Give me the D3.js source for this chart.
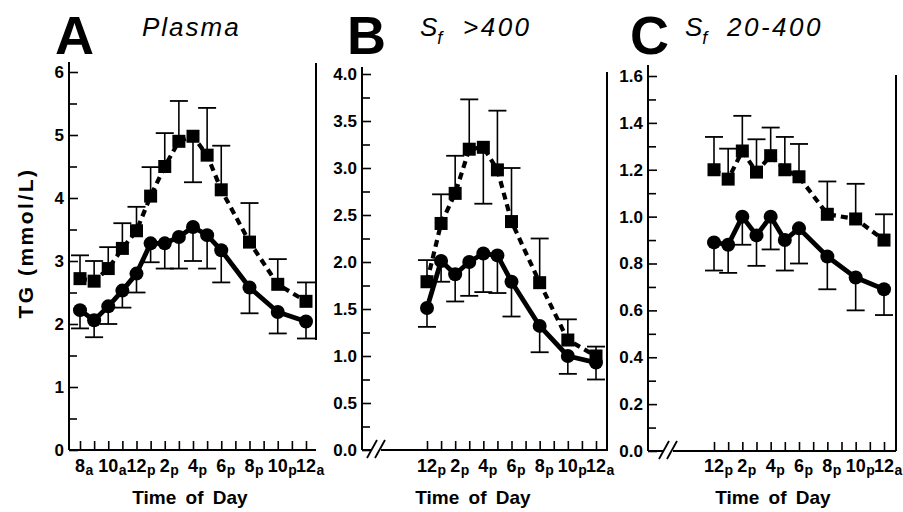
<!DOCTYPE html>
<html>
<head>
<meta charset="utf-8">
<script src="https://cdn.jsdelivr.net/npm/d3@7"></script>
<style>
    body { margin: 0; background: #fff; }
    text { font-family: "Liberation Sans", Arial, Helvetica, sans-serif; fill: #000; }
</style>
</head>
<body>
<div id="chart"></div>
<script>
// hour of day: 8 = 8 am, 12 = noon, 24 = midnight
var hoursA = [8, 9, 10, 11, 12, 13, 14, 15, 16, 17, 18, 20, 22, 24];
var hoursBC = [12, 13, 14, 15, 16, 17, 18, 20, 22, 24];

// A: plasma (squares = dashed, circles = solid); "Bar" = end of the error bar
var plasmaSquare = [2.72, 2.68, 2.88, 3.2, 3.48, 4.03, 4.5, 4.9, 4.98, 4.68, 4.13, 3.3, 2.63, 2.36];
var plasmaSquareBar = [3.09, 3.0, 3.22, 3.6, 3.86, 4.49, 5.03, 5.54, 4.25, 5.43, 4.83, 3.92, 3.03, 2.66];
var plasmaCircle = [2.22, 2.06, 2.28, 2.53, 2.8, 3.28, 3.28, 3.38, 3.54, 3.41, 3.17, 2.58, 2.19, 2.04];
var plasmaCircleBar = [1.93, 1.79, 2.0, 2.26, 2.5, 2.98, 2.88, 2.88, 3.0, 2.88, 2.66, 2.17, 1.85, 1.77];

// B: Sf >400
var sf400Square = [1.79, 2.41, 2.73, 3.2, 3.22, 2.98, 2.43, 1.78, 1.17, 1.0];
var sf400SquareBar = [2.02, 2.72, 3.13, 3.73, 2.62, 3.61, 3.0, 2.25, 1.39, 1.1];
var sf400Circle = [1.51, 2.01, 1.87, 2.0, 2.09, 2.07, 1.79, 1.32, 1.0, 0.93];
var sf400CircleBar = [1.31, 1.79, 1.58, 1.64, 1.68, 1.67, 1.42, 1.04, 0.81, 0.75];

// C: Sf 20-400
var sf20Square = [1.2, 1.16, 1.28, 1.19, 1.26, 1.2, 1.17, 1.01, 0.99, 0.9];
var sf20SquareBar = [1.34, 1.29, 1.43, 1.33, 1.38, 1.34, 1.31, 1.15, 1.14, 1.01];
var sf20Circle = [0.89, 0.88, 1.0, 0.92, 1.0, 0.9, 0.95, 0.83, 0.74, 0.69];
var sf20CircleBar = [0.77, 0.76, 0.88, 0.79, 0.86, 0.77, 0.8, 0.69, 0.6, 0.58];

// x tick labels
var labelHoursA = [8, 10, 12, 14, 16, 18, 20, 22, 24];
var labelNumA = ["8", "10", "12", "2", "4", "6", "8", "10", "12"];
var labelSufA = ["a", "a", "p", "p", "p", "p", "p", "p", "a"];
var labelHoursBC = [12, 14, 16, 18, 20, 22, 24];
var labelNumBC = ["12", "2", "4", "6", "8", "10", "12"];
var labelSufBC = ["p", "p", "p", "p", "p", "p", "a"];

// y ticks
var yTicksA = [0, 1, 2, 3, 4, 5, 6];
var yMinorA = [0.5, 1.5, 2.5, 3.5, 4.5, 5.5];
var yTicksB = [0, 0.5, 1.0, 1.5, 2.0, 2.5, 3.0, 3.5, 4.0];
var yMinorB = [0.25, 0.75, 1.25, 1.75, 2.25, 2.75, 3.25, 3.75];
var yTicksC = [0, 0.2, 0.4, 0.6, 0.8, 1.0, 1.2, 1.4, 1.6];
var yMinorC = [0.1, 0.3, 0.5, 0.7, 0.9, 1.1, 1.3, 1.5];

var width = 903, height = 512;

var svg = d3.select("#chart")
    .append("svg")
    .attr("width", width)
    .attr("height", height);

var panels = [
    {letter: "A", letterX: 55, sub: null, title: "Plasma", titleX: 142,
        axisX: 69, axisTop: 62, right: 316, rightTop: 63, rightBottom: 340, brk: null,
        hours: hoursA, hourDomain: [8, 24], xRange: [80, 306],
        yDomain: [0, 6], yRange: [450, 72], fmt: d3.format("d"),
        ticks: yTicksA, minor: yMinorA,
        labelHours: labelHoursA, labelNum: labelNumA, labelSuf: labelSufA,
        square: plasmaSquare, squareBar: plasmaSquareBar, circle: plasmaCircle, circleBar: plasmaCircleBar,
        xTitle: 190},
    {letter: "B", letterX: 347, sub: "S", title: ">400", titleX: 420, restX: 463,
        axisX: 362, axisTop: 67, right: 607, rightTop: 72, rightBottom: 451, brk: 372,
        hours: hoursBC, hourDomain: [12, 24], xRange: [427, 596],
        yDomain: [0, 4], yRange: [450, 74], fmt: d3.format(".1f"),
        ticks: yTicksB, minor: yMinorB,
        labelHours: labelHoursBC, labelNum: labelNumBC, labelSuf: labelSufBC,
        square: sf400Square, squareBar: sf400SquareBar, circle: sf400Circle, circleBar: sf400CircleBar,
        xTitle: 473},
    {letter: "C", letterX: 630, sub: "S", title: "20-400", titleX: 685, restX: 727,
        axisX: 648, axisTop: 65, right: 896, rightTop: 75, rightBottom: 451, brk: 664,
        hours: hoursBC, hourDomain: [12, 24], xRange: [714, 884],
        yDomain: [0, 1.6], yRange: [451, 76], fmt: d3.format(".1f"),
        ticks: yTicksC, minor: yMinorC,
        labelHours: labelHoursBC, labelNum: labelNumBC, labelSuf: labelSufBC,
        square: sf20Square, squareBar: sf20SquareBar, circle: sf20Circle, circleBar: sf20CircleBar,
        xTitle: 773}
];

panels.forEach(function (p) {
    var x = d3.scaleLinear().domain(p.hourDomain).range(p.xRange);
    var y = d3.scaleLinear().domain(p.yDomain).range(p.yRange);
    var g = svg.append("g");
    var y0 = y(0);

    // panel letter + title
    g.append("text")
        .attr("x", p.letterX).attr("y", 54)
        .style("font-size", "54px").style("font-weight", "bold")
        .text(p.letter);
    if (p.sub) {
        var t = g.append("text")
            .attr("x", p.titleX).attr("y", 36)
            .style("font-size", "26px").style("font-style", "italic");
        t.append("tspan").text("S");
        t.append("tspan").attr("dy", 8).style("font-size", "18px").text("f");
        g.append("text")
            .attr("x", p.restX).attr("y", 36)
            .style("font-size", "26px").style("font-style", "italic")
            .style("letter-spacing", "2.5px")
            .text(p.title);
    } else {
        g.append("text")
            .attr("x", p.titleX).attr("y", 36)
            .style("font-size", "26px").style("font-style", "italic")
            .style("letter-spacing", "2px")
            .text(p.title);
    }

    // y axis
    g.append("line")
        .attr("x1", p.axisX).attr("x2", p.axisX)
        .attr("y1", p.axisTop).attr("y2", y0)
        .attr("stroke", "#000").attr("stroke-width", 2);

    var yAxis = d3.axisLeft(y).tickValues(p.ticks).tickFormat(p.fmt)
        .tickSizeInner(-9).tickSizeOuter(0).tickPadding(5);
    var ya = g.append("g").attr("transform", "translate(" + p.axisX + ",0)").call(yAxis);
    ya.select(".domain").remove();
    ya.selectAll("line").attr("stroke-width", 1.6);
    ya.selectAll("text")
        .style("font-size", "17px").style("font-weight", "bold")
        .style("font-family", "'Liberation Sans', Arial, sans-serif");

    var yMinor = d3.axisLeft(y).tickValues(p.minor).tickFormat("")
        .tickSizeInner(-8).tickSizeOuter(0);
    var ym = g.append("g").attr("transform", "translate(" + p.axisX + ",0)").call(yMinor);
    ym.select(".domain").remove();
    ym.selectAll("line").attr("stroke-width", 1.6);

    // x axis line (with break for B and C)
    if (p.brk) {
        g.append("line")
            .attr("x1", p.axisX).attr("x2", p.brk).attr("y1", y0).attr("y2", y0)
            .attr("stroke", "#000").attr("stroke-width", 2);
        g.append("line")
            .attr("x1", p.brk + 9).attr("x2", p.right).attr("y1", y0).attr("y2", y0)
            .attr("stroke", "#000").attr("stroke-width", 2);
        [0, 8].forEach(function (d) {
            g.append("line")
                .attr("x1", p.brk - 5 + d).attr("y1", y0 + 8)
                .attr("x2", p.brk + 5 + d).attr("y2", y0 - 10)
                .attr("stroke", "#000").attr("stroke-width", 1.8);
        });
    } else {
        g.append("line")
            .attr("x1", p.axisX).attr("x2", p.right).attr("y1", y0).attr("y2", y0)
            .attr("stroke", "#000").attr("stroke-width", 2);
    }

    // right border line
    g.append("line")
        .attr("x1", p.right).attr("x2", p.right)
        .attr("y1", p.rightTop).attr("y2", p.rightBottom)
        .attr("stroke", "#000").attr("stroke-width", 2);

    // hourly x ticks
    var xAxis = d3.axisBottom(x).tickValues(d3.range(p.hourDomain[0], p.hourDomain[1] + 1))
        .tickFormat("").tickSizeInner(-9).tickSizeOuter(0);
    var xa = g.append("g").attr("transform", "translate(0," + y0 + ")").call(xAxis);
    xa.select(".domain").remove();
    xa.selectAll("line").attr("stroke-width", 1.6);

    // x tick labels: number centred on the tick, a/p as subscript
    p.labelHours.forEach(function (h, i) {
        var num = g.append("text")
            .attr("x", x(h)).attr("y", 472)
            .attr("text-anchor", "middle")
            .style("font-size", "18px").style("font-weight", "bold")
            .text(p.labelNum[i]);
        var w = num.node().getComputedTextLength();
        g.append("text")
            .attr("x", x(h) + w / 2 + 0.5).attr("y", 475)
            .style("font-size", "14px").style("font-weight", "bold")
            .text(p.labelSuf[i]);
    });

    g.append("text")
        .attr("x", p.xTitle).attr("y", 504)
        .attr("text-anchor", "middle")
        .style("font-size", "19px").style("font-weight", "bold")
        .style("word-spacing", "4px")
        .text("Time of Day");

    // error bars
    function bars(vals, ends) {
        vals.forEach(function (v, i) {
            var cx = x(p.hours[i]);
            g.append("line")
                .attr("x1", cx).attr("x2", cx)
                .attr("y1", y(v)).attr("y2", y(ends[i]))
                .attr("stroke", "#000").attr("stroke-width", 1.6);
            g.append("line")
                .attr("x1", cx - 9).attr("x2", cx + 9)
                .attr("y1", y(ends[i])).attr("y2", y(ends[i]))
                .attr("stroke", "#000").attr("stroke-width", 1.8);
        });
    }
    bars(p.square, p.squareBar);
    bars(p.circle, p.circleBar);

    var line = d3.line()
        .x(function (d, i) { return x(p.hours[i]); })
        .y(function (d) { return y(d); });

    g.append("path")
        .datum(p.square)
        .attr("d", line)
        .attr("fill", "none").attr("stroke", "#000")
        .attr("stroke-width", 4.2).attr("stroke-dasharray", "7,5");

    g.append("path")
        .datum(p.circle)
        .attr("d", line)
        .attr("fill", "none").attr("stroke", "#000")
        .attr("stroke-width", 4.8).attr("stroke-linejoin", "round");

    g.selectAll(".sq")
        .data(p.square)
        .enter()
        .append("rect")
        .attr("x", function (d, i) { return x(p.hours[i]) - 6.5; })
        .attr("y", function (d) { return y(d) - 6.5; })
        .attr("width", 13).attr("height", 13)
        .attr("fill", "#000");

    g.selectAll(".ci")
        .data(p.circle)
        .enter()
        .append("circle")
        .attr("cx", function (d, i) { return x(p.hours[i]); })
        .attr("cy", function (d) { return y(d); })
        .attr("r", 7)
        .attr("fill", "#000");
});

// shared y label
svg.append("text")
    .attr("transform", "translate(33,243) rotate(-90)")
    .attr("text-anchor", "middle")
    .style("font-size", "21px").style("font-weight", "bold")
    .style("letter-spacing", "2.5px")
    .text("TG (mmol/L)");
</script>
</body>
</html>
